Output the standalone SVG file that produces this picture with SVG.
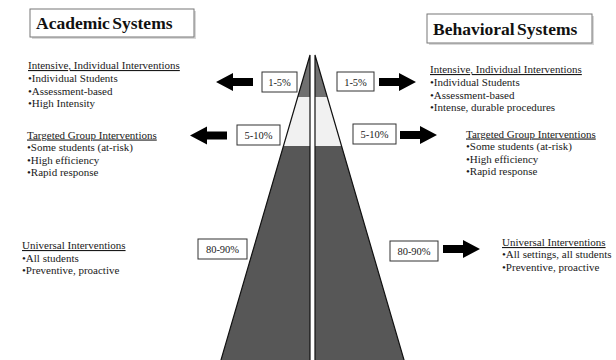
<svg xmlns="http://www.w3.org/2000/svg" width="616" height="360" viewBox="0 0 616 360">
<style>
.t{font-family:"Liberation Serif","Times New Roman",serif;font-size:11px;fill:#1a1a1a}
.h{text-decoration:underline}
.title{font-family:"Liberation Serif","Times New Roman",serif;font-size:17.5px;font-weight:bold;fill:#111;word-spacing:-2px}
.tbox{fill:#fff;stroke:#777;stroke-width:1}
.shadow{fill:#d8d8d8}
.pbox{fill:#fff;stroke:#333;stroke-width:1}
.pct{font-family:"Liberation Serif","Times New Roman",serif;font-size:10.5px;fill:#1a1a1a;text-anchor:middle}
.outline{fill:none;stroke:#111;stroke-width:1.2;stroke-linejoin:miter}
.top{fill:#707070}
.mid{fill:#f1f1f1}
.base{fill:#575757}
.arrow{fill:#000}
</style>
<defs>
<path id="arr" d="M0,-4 H20 V-9 L37,0 L20,9 V4 H0 Z"/>
</defs>
<rect width="616" height="360" fill="#fff"/>

<g id="title-academic">
<rect class="shadow" x="32" y="11" width="164" height="28"/>
<rect class="tbox" x="30" y="9" width="164" height="28"/>
<text class="title" x="36" y="29">Academic Systems</text>
</g>
<g id="title-behavioral">
<rect class="shadow" x="429" y="16" width="165" height="29"/>
<rect class="tbox" x="427" y="14" width="165" height="29"/>
<text class="title" x="433" y="34.5">Behavioral Systems</text>
</g>

<g id="pyramid-left">
<polygon class="top" points="310,55 310,97 297.7,97"/>
<polygon class="mid" points="310,97 310,146 283.4,146 297.7,97"/>
<polygon class="base" points="310,146 310,362 220.4,362 283.4,146"/>
<polygon class="outline" points="310,55 310,362 220.4,362"/>
</g>
<g id="pyramid-right">
<polygon class="top" points="315,55 315,97 327.3,97"/>
<polygon class="mid" points="315,97 315,146 341.6,146 327.3,97"/>
<polygon class="base" points="315,146 315,362 404.6,362 341.6,146"/>
<polygon class="outline" points="315,55 315,362 404.6,362"/>
</g>

<g id="academic-intensive">
<text class="t h" x="28" y="69">Intensive, Individual Interventions</text>
<text class="t" x="28" y="82">•Individual Students</text>
<text class="t" x="28" y="94.5">•Assessment-based</text>
<text class="t" x="28" y="107">•High Intensity</text>
</g>
<g id="academic-targeted">
<text class="t h" x="27" y="138.5">Targeted Group Interventions</text>
<text class="t" x="27" y="151">•Some students (at-risk)</text>
<text class="t" x="27" y="163.5">•High efficiency</text>
<text class="t" x="27" y="176">•Rapid response</text>
</g>
<g id="academic-universal">
<text class="t h" x="22" y="249">Universal Interventions</text>
<text class="t" x="22" y="261.5">•All students</text>
<text class="t" x="22" y="274">•Preventive,  proactive</text>
</g>

<g id="behavioral-intensive">
<text class="t h" x="430" y="73">Intensive, Individual Interventions</text>
<text class="t" x="430" y="86">•Individual Students</text>
<text class="t" x="430" y="98.5">•Assessment-based</text>
<text class="t" x="430" y="111">•Intense, durable procedures</text>
</g>
<g id="behavioral-targeted">
<text class="t h" x="466" y="137.5">Targeted Group Interventions</text>
<text class="t" x="466" y="150">•Some students (at-risk)</text>
<text class="t" x="466" y="162.5">•High efficiency</text>
<text class="t" x="466" y="175">•Rapid response</text>
</g>
<g id="behavioral-universal">
<text class="t h" x="502" y="246">Universal Interventions</text>
<text class="t" x="502" y="258">•All settings, all students</text>
<text class="t" x="502" y="270.5">•Preventive,  proactive</text>
</g>

<g id="pct-left-1">
<rect class="pbox" x="262" y="72" width="35" height="20"/>
<text class="pct" x="279.5" y="86">1-5%</text>
</g>
<g id="pct-left-2">
<rect class="pbox" x="237" y="125" width="43" height="20"/>
<text class="pct" x="258.5" y="139">5-10%</text>
</g>
<g id="pct-left-3">
<rect class="pbox" x="198" y="239" width="49" height="20"/>
<text class="pct" x="222.5" y="253">80-90%</text>
</g>
<g id="pct-right-1">
<rect class="pbox" x="337" y="72" width="37" height="19"/>
<text class="pct" x="355.5" y="85.5">1-5%</text>
</g>
<g id="pct-right-2">
<rect class="pbox" x="353" y="124" width="43" height="20"/>
<text class="pct" x="374.5" y="138">5-10%</text>
</g>
<g id="pct-right-3">
<rect class="pbox" x="390" y="241" width="48" height="20"/>
<text class="pct" x="414" y="255">80-90%</text>
</g>

<g id="connectors">
<use href="#arr" class="arrow" transform="translate(253,82) scale(-1,1)"/>
<use href="#arr" class="arrow" transform="translate(227,135.5) scale(-1,1)"/>
<use href="#arr" class="arrow" transform="translate(379,82)"/>
<use href="#arr" class="arrow" transform="translate(400,135)"/>
<use href="#arr" class="arrow" transform="translate(443,249)"/>
</g>
</svg>
